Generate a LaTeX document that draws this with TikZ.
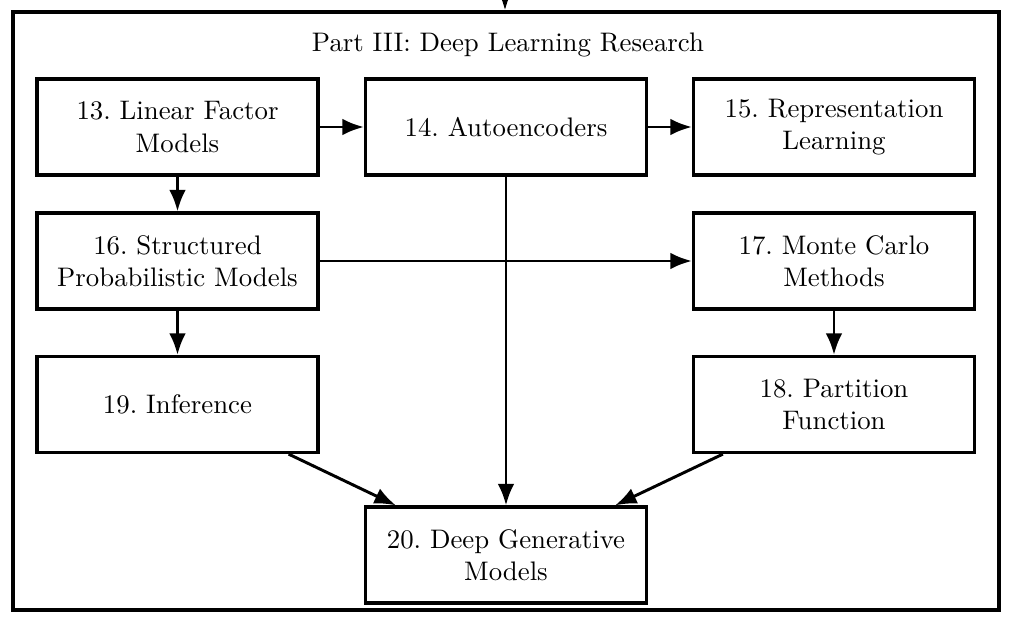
\documentclass[tikz,border=0pt]{standalone}
\usetikzlibrary{arrows.meta,calc}
\frenchspacing
\begin{document}
\begin{tikzpicture}[x=0.373pt,y=-0.373pt,
  chap/.style={draw, line width=1.2pt, minimum width=104.8pt, minimum height=35.8pt, inner sep=0pt, align=center},
  conn/.style={line width=1.1pt, -{Latex[length=8pt,width=6.2pt]}}]
\useasboundingbox (0,0) rectangle (1011,623);
\node[draw, line width=1.2pt, minimum width=367.8pt, minimum height=223.1pt, inner sep=0pt] (frame) at (506,311) {};
\coordinate (top) at (505,0);
\node (title) at (508,45) {Part III: Deep Learning Research};
\node[chap] (n13) at (177.5,127) {13. Linear Factor\\Models};
\node[chap] (n14) at (506,127) {14. Autoencoders};
\node[chap] (n15) at (834,127) {15. Representation\\Learning};
\node[chap] (n16) at (177.5,261) {16. Structured\\Probabilistic Models};
\node[chap] (n17) at (834,261) {17. Monte Carlo\\Methods};
\node[chap] (n19) at (177.5,404.5) {19. Inference};
\node[chap] (n18) at (834,404.5) {18. Partition\\Function};
\node[chap] (n20) at (506,555) {20. Deep Generative\\Models};
\draw[conn] (top) -- (frame.north -| top);
\draw[conn] (n13) -- (n14);
\draw[conn] (n14) -- (n15);
\draw[conn] (n13) -- (n16);
\draw[conn] (n14) -- (n20);
\draw[conn] (n16) -- (n17);
\draw[conn] (n16) -- (n19);
\draw[conn] (n17) -- (n18);
\draw[conn] ($(n19.south east)+(-31,0)$) -- ($(n20.north west)+(32,0)$);
\draw[conn] ($(n18.south west)+(31,0)$) -- ($(n20.north east)+(-33,0)$);
\end{tikzpicture}
\end{document}
